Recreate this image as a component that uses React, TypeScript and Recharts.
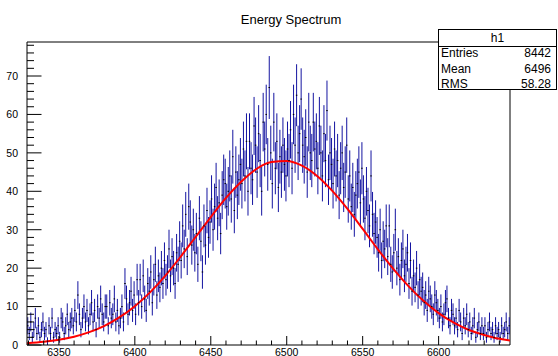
import React from 'react'
import { ComposedChart, XAxis, YAxis, Scatter, ErrorBar, Line, ReferenceLine } from 'recharts'

// histogram h1: 1 unit bins starting at 6329
const firstBin = 6329
const binCounts = [
  5, 3, 6, 2, 4, 7, 3, 5, 2, 4, // 6329
  6, 3, 4, 1, 5, 3, 7, 2, 4, 3, // 6339
  5, 2, 7, 6, 3, 5, 8, 4, 6, 7, // 6349
  5, 9, 6, 13, 8, 4, 7, 10, 6, 9, // 6359
  5, 8, 11, 6, 9, 4, 10, 7, 12, 8, // 6369
  6, 10, 10, 5, 11, 7, 8, 12, 6, 9, // 6379
  5, 7, 10, 6, 16, 12, 8, 11, 14, 9, // 6389
  13, 8, 17, 11, 17, 10, 18, 12, 9, 16, // 6399
  14, 19, 11, 17, 21, 13, 18, 15, 20, 16, // 6409
  22, 17, 19, 25, 18, 23, 20, 16, 24, 21, // 6419
  27, 22, 31, 25, 34, 23, 36, 32, 26, 30, // 6429
  24, 29, 21, 33, 27, 19, 31, 26, 35, 28, // 6439
  32, 38, 30, 36, 41, 33, 37, 29, 39, 43, // 6449
  42, 36, 40, 44, 38, 49, 35, 45, 39, 43, // 6459
  47, 42, 51, 44, 53, 40, 53, 46, 43, 57, // 6469
  52, 45, 55, 48, 40, 58, 51, 60, 47, 67, // 6479
  50, 42, 58, 46, 53, 41, 49, 45, 52, 47, // 6489
  44, 51, 48, 56, 46, 60, 52, 65, 50, 55, // 6499
  64, 52, 49, 54, 45, 58, 50, 48, 58, 51, // 6509
  53, 46, 57, 50, 44, 55, 48, 61, 43, 50, // 6519
  47, 42, 51, 44, 48, 39, 46, 50, 41, 45, // 6529
  52, 38, 44, 36, 41, 34, 39, 42, 45, 37, // 6539
  46, 38, 33, 40, 35, 31, 44, 34, 29, 32, // 6549
  28, 24, 30, 22, 27, 25, 31, 23, 31, 21, // 6559
  19, 24, 30, 20, 23, 17, 22, 25, 18, 21, // 6569
  24, 16, 22, 14, 18, 15, 20, 13, 17, 14, // 6579
  15, 11, 13, 9, 14, 12, 10, 8, 13, 11, // 6589
  9, 7, 10, 6, 8, 11, 12, 7, 5, 9, // 6599
  8, 5, 7, 4, 9, 6, 3, 7, 5, 8, // 6609
  4, 6, 3, 5, 7, 2, 4, 6, 3, 5, // 6619
  3, 5, 2, 4, 6, 3, 4, 2, 5, 3, // 6629
  4, 2, 5, 3, 4, 6, 3, 5, // 6639
]

// gaussian fit curve
const fitX = [6329, 6340, 6350, 6360, 6370, 6380, 6390, 6400, 6410, 6420, 6430, 6440, 6450, 6460, 6470, 6480,
  6490, 6500, 6510, 6520, 6530, 6540, 6550, 6560, 6570, 6580, 6590, 6600, 6610, 6620, 6630, 6640, 6647]
const fitY = [0.45, 0.82, 1.35, 2.16, 3.34, 4.99, 7.24, 10.1, 13.7, 18.0, 22.9, 28.1, 33.3, 38.3, 42.5, 45.8,
  47.6, 47.9, 46.7, 44.0, 40.1, 35.4, 30.2, 24.9, 19.9, 15.4, 11.5, 8.3, 5.8, 3.9, 2.6, 1.6, 1.17]

const xMin = 6329
const xMax = 6647
const yMax = 78.85
const xLabels = [6350, 6400, 6450, 6500, 6550, 6600]
const yLabels = [0, 10, 20, 30, 40, 50, 60, 70]
const xTicks = Array.from({ length: 32 }, (_, i) => 6330 + i * 10)
const yTicks = Array.from({ length: 40 }, (_, i) => i * 2)

const font = '"Liberation Sans", Arial, Helvetica, sans-serif'

const bins = binCounts.map((n, i) => ({ x: firstBin + i + 0.5, y: n, err: Math.sqrt(n) }))
const fit = fitX.map((x, i) => ({ x, y: fitY[i] }))

const XTick = (props: any) => {
  const { x, y, payload } = props
  const major = xLabels.includes(payload.value)
  return (
    <g>
      <line x1={x} x2={x} y1={y} y2={y - (major ? 9 : 4.5)} stroke="#000" />
      {major && (
        <text x={x} y={y + 10.5} textAnchor="middle" fontSize={10.5} fontFamily={font} fill="#000">
          {payload.value}
        </text>
      )}
    </g>
  )
}

const YTick = (props: any) => {
  const { x, y, payload } = props
  const major = yLabels.includes(payload.value)
  return (
    <g>
      <line x1={x} x2={x + (major ? 14.5 : 7)} y1={y} y2={y} stroke="#000" />
      {major && (
        <text x={x - 9} y={y} dy={3.8} textAnchor="end" fontSize={10.5} fontFamily={font} fill="#000">
          {payload.value}
        </text>
      )}
    </g>
  )
}

const Dot = (props: any) => {
  const { cx, cy } = props
  return <rect x={cx - 0.75} y={cy - 0.5} width={1.5} height={1} fill="#000" />
}

const statRow = (label: string, value: string, top: number) => (
  <div style={{ position: 'absolute', left: 2, right: 5, top, height: 15, lineHeight: '15px' }}>
    <span style={{ float: 'left' }}>{label}</span>
    <span style={{ float: 'right' }}>{value}</span>
  </div>
)

export default function App() {
  return (
    <div style={{ position: 'absolute', left: 0, top: 0, width: 558, height: 356, background: '#fff', fontFamily: font }}>
      <ComposedChart width={558} height={356} margin={{ top: 42, right: 48, bottom: 0, left: 0 }}>
        <XAxis type="number" dataKey="x" domain={[xMin, xMax]} ticks={xTicks} interval={0} allowDataOverflow
          height={11} tickSize={0} tickMargin={0} tickLine={false} tick={<XTick />} axisLine={{ stroke: '#000' }} />
        <YAxis type="number" dataKey="y" domain={[0, yMax]} ticks={yTicks} interval={0} allowDataOverflow
          width={27} tickSize={0} tickMargin={0} tickLine={false} tick={<YTick />} axisLine={{ stroke: '#000' }} />
        <ReferenceLine y={yMax} stroke="#000" />
        <ReferenceLine x={xMax} stroke="#000" />
        <Scatter data={bins} dataKey="y" shape={<Dot />} isAnimationActive={false}>
          <ErrorBar dataKey="err" direction="y" width={0} stroke="#1414a0" strokeWidth={1} isAnimationActive={false} />
        </Scatter>
        <Line data={fit} dataKey="y" type="monotone" stroke="#ff0000" strokeWidth={2} dot={false} isAnimationActive={false} />
      </ComposedChart>
      <div style={{ position: 'absolute', left: 191, width: 200, top: 12, lineHeight: '16px', fontSize: 13, textAlign: 'center' }}>
        Energy Spectrum
      </div>
      <div style={{ position: 'absolute', left: 438, top: 29, width: 119, height: 61, boxSizing: 'border-box', border: '1px solid #000', background: '#fff', fontSize: 12 }}>
        <div style={{ position: 'absolute', left: 0, right: 0, top: 0, height: 16, lineHeight: '17px', textAlign: 'center', borderBottom: '1px solid #000' }}>h1</div>
        {statRow('Entries', '8442', 16)}
        {statRow('Mean', '6496', 31.5)}
        {statRow('RMS', '58.28', 46.5)}
      </div>
    </div>
  )
}
